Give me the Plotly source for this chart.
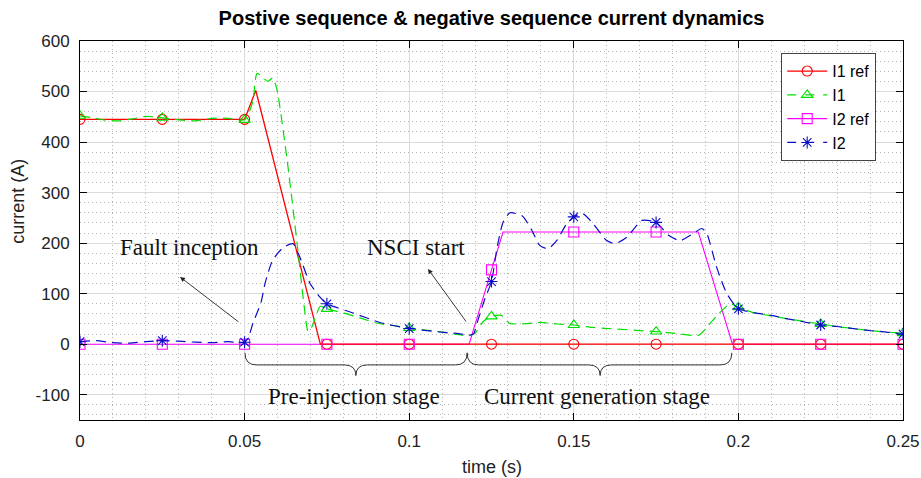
import plotly.graph_objects as go

# Times at which each curve carries a marker symbol
MARK_T = [0, 0.025, 0.05, 0.075, 0.1, 0.125, 0.15, 0.175, 0.2, 0.225, 0.25]

# Positive-sequence reference current I1 ref (A)
I1_REF_T = [0, 0.025, 0.05, 0.0534, 0.073, 0.075, 0.1, 0.125, 0.15, 0.175, 0.2, 0.225, 0.25]
I1_REF_V = [445, 445, 445, 502, 0, 0, 0, 0, 0, 0, 0, 0, 0]

# Measured positive-sequence current I1 (A)
I1_T = [0, 0.004, 0.008, 0.012, 0.016, 0.02, 0.025, 0.03, 0.035, 0.04, 0.045, 0.05,
        0.0525, 0.0538, 0.0571, 0.0585, 0.0598, 0.0632, 0.0662, 0.068, 0.0693, 0.0705,
        0.073, 0.075, 0.078, 0.08, 0.085, 0.09, 0.095, 0.1, 0.105, 0.11, 0.115, 0.118,
        0.12, 0.1225, 0.125, 0.128, 0.1306, 0.136, 0.14, 0.145, 0.15, 0.156, 0.163, 0.17,
        0.175, 0.18, 0.188, 0.191, 0.194, 0.1975, 0.2, 0.205, 0.21, 0.215, 0.22, 0.225,
        0.23, 0.235, 0.24, 0.245, 0.25]
I1_V = [452, 448, 443, 442, 446, 451, 448, 444, 442, 447, 447, 444,
        480, 536, 520, 527, 505, 350, 185, 80, 25, 35,
        75, 70, 65, 62, 52, 42, 37, 32, 28, 24, 19, 17,
        22, 45, 55, 57, 41, 41, 43, 40, 38, 33, 30, 27,
        25, 22, 18, 38, 60, 80, 73, 62, 56, 50, 45, 40,
        35, 31, 27, 24, 22]

# Negative-sequence reference current I2 ref (A)
I2_REF_T = [0, 0.025, 0.05, 0.075, 0.1, 0.1182, 0.125, 0.1285, 0.15, 0.175, 0.1878,
            0.1982, 0.2, 0.225, 0.25]
I2_REF_V = [0, 0, 0, 0, 0, 0, 147, 222, 222, 222, 222, 0, 0, 0, 0]

# Measured negative-sequence current I2 (A)
I2_T = [0, 0.005, 0.01, 0.015, 0.02, 0.025, 0.03, 0.035, 0.04, 0.045, 0.05, 0.0515,
        0.0525, 0.055, 0.0562, 0.0585, 0.0617, 0.0647, 0.0668, 0.0699, 0.0729, 0.075,
        0.0833, 0.0911, 0.1, 0.108, 0.115, 0.1182, 0.1195, 0.121, 0.123, 0.125, 0.1267,
        0.1285, 0.1306, 0.1343, 0.1373, 0.1397, 0.1422, 0.1448, 0.1478, 0.15, 0.1528,
        0.1559, 0.16, 0.1625, 0.166, 0.1707, 0.175, 0.1789, 0.1823, 0.1863, 0.1889,
        0.1904, 0.1934, 0.1965, 0.2, 0.205, 0.21, 0.215, 0.22, 0.225, 0.23, 0.235, 0.24,
        0.245, 0.25]
I2_V = [5, 7, 3, 2, 5, 7, 6, 4, 3, 5, 4, 20,
        41, 83, 120, 166, 191, 199, 172, 120, 93, 80,
        61, 43, 31, 25, 21, 18, 20, 50, 90, 124, 191,
        241, 260, 254, 225, 195, 189, 205, 238, 252, 258,
        238, 205, 199, 211, 245, 241, 215, 205, 219, 229,
        219, 152, 100, 70, 62, 57, 50, 44, 38, 35, 31, 27,
        24, 20]

X_TICKS = [0, 0.05, 0.1, 0.15, 0.2, 0.25]
X_TICK_TEXT = ["0", "0.05", "0.1", "0.15", "0.2", "0.25"]
Y_TICKS = [-100, 0, 100, 200, 300, 400, 500, 600]
Y_TICK_TEXT = ["-100", "0", "100", "200", "300", "400", "500", "600"]

SERIES = {
    "I1 ref": dict(t=I1_REF_T, v=I1_REF_V, color="#ff0000", dash="solid",
                   width=1.3, symbol="circle-open", size=10, shape="linear"),
    "I1": dict(t=I1_T, v=I1_V, color="#00e000", dash="10px,6px",
               width=1.2, symbol="triangle-up-open", size=10, shape="spline"),
    "I2 ref": dict(t=I2_REF_T, v=I2_REF_V, color="#ff00ff", dash="solid",
                   width=1.1, symbol="square-open", size=10, shape="linear"),
    "I2": dict(t=I2_T, v=I2_V, color="#0c0cc8", dash="10px,6px",
               width=1.2, symbol="asterisk-open", size=10, shape="spline"),
}
LEGEND_ORDER = ["I1 ref", "I1", "I2 ref", "I2"]
DRAW_ORDER = ["I2 ref", "I1 ref", "I1", "I2"]

fig = go.Figure()

# curves (red reference drawn over the magenta one where both sit at zero)
for name in DRAW_ORDER:
    s = SERIES[name]
    line = dict(color=s["color"], width=s["width"], dash=s["dash"], shape=s["shape"])
    if s["shape"] == "spline":
        line["smoothing"] = 0.6
    fig.add_trace(go.Scatter(x=s["t"], y=s["v"], mode="lines", line=line,
                             showlegend=False, hoverinfo="skip"))

# marker symbols at the sampled instants
for name in LEGEND_ORDER:
    s = SERIES[name]
    lookup = dict(zip(s["t"], s["v"]))
    mark_y = [lookup[t] for t in MARK_T]
    fig.add_trace(go.Scatter(x=MARK_T, y=mark_y, mode="markers", showlegend=False,
                             hoverinfo="skip",
                             marker=dict(symbol=s["symbol"], size=s["size"],
                                         color=s["color"],
                                         line=dict(width=1.1, color=s["color"]))))

# legend entries: line sample with the series marker
for name in LEGEND_ORDER:
    s = SERIES[name]
    fig.add_trace(go.Scatter(x=[None], y=[None], mode="lines+markers", name=name,
                             line=dict(color=s["color"], width=s["width"],
                                       dash="dash" if s["dash"] != "solid" else "solid"),
                             marker=dict(symbol=s["symbol"], size=s["size"], color=s["color"],
                                         line=dict(width=1.1, color=s["color"]))))


def brace_path(x0, x1, xm, ytop, ymid, ytip, r):
    return (f"M {x0},{ytop} Q {x0},{ymid} {x0 + r},{ymid} L {xm - r},{ymid} "
            f"Q {xm},{ymid} {xm},{ytip} Q {xm},{ymid} {xm + r},{ymid} "
            f"L {x1 - r},{ymid} Q {x1},{ymid} {x1},{ytop}")


brace_style = dict(type="path", xref="x", yref="y", line=dict(color="#333333", width=1),
                   layer="above")
fig.add_shape(path=brace_path(0.0501, 0.1176, 0.0838, -17, -41, -62, 0.0035), **brace_style)
fig.add_shape(path=brace_path(0.1176, 0.198, 0.158, -17, -41, -62, 0.0035), **brace_style)

serif = dict(family="Liberation Serif, Times New Roman, serif", size=23, color="#111")
notes = [
    dict(x=0.0334, y=192, text="Fault inception"),
    dict(x=0.1021, y=192, text="NSCI start"),
    dict(x=0.0832, y=-104, text="Pre-injection stage"),
    dict(x=0.1570, y=-104, text="Current generation stage"),
]
for n in notes:
    fig.add_annotation(x=n["x"], y=n["y"], xref="x", yref="y", text=n["text"],
                       showarrow=False, font=serif, xanchor="center", yanchor="middle")

arrows = [
    dict(x=0.0304, y=133, ax=0.0486, ay=42),
    dict(x=0.1057, y=149, ax=0.1176, ay=42),
]
for a in arrows:
    fig.add_annotation(x=a["x"], y=a["y"], ax=a["ax"], ay=a["ay"], xref="x", yref="y",
                       axref="x", ayref="y", text="", showarrow=True, arrowhead=2,
                       arrowsize=1.1, arrowwidth=0.9, arrowcolor="#222")

# axis titles
fig.add_annotation(x=0.5, y=-0.124, xref="paper", yref="paper", text="time (s)",
                   showarrow=False, font=dict(size=18, color="#222"),
                   xanchor="center", yanchor="middle")
fig.add_annotation(x=-0.0755, y=0.578, xref="paper", yref="paper", text="current (A)",
                   showarrow=False, textangle=-90, font=dict(size=18, color="#222"),
                   xanchor="center", yanchor="middle")

axis_common = dict(showline=True, linecolor="black", linewidth=1, mirror="ticks",
                   ticks="inside", ticklen=7, tickwidth=1, tickcolor="black",
                   showgrid=True, gridcolor="#dadada", gridwidth=1, zeroline=False,
                   tickfont=dict(size=17, color="#222"), ticklabelstandoff=6)
minor_grid = dict(showgrid=True, gridcolor="#b4b4b4", griddash="1px,3px", gridwidth=1)

fig.update_xaxes(range=[0, 0.25], tickmode="array", tickvals=X_TICKS, ticktext=X_TICK_TEXT,
                 minor=dict(tickmode="linear", tick0=0, dtick=0.01, **minor_grid),
                 **axis_common)
fig.update_yaxes(range=[-150, 600], tickmode="array", tickvals=Y_TICKS, ticktext=Y_TICK_TEXT,
                 minor=dict(tickmode="linear", tick0=0, dtick=20, **minor_grid),
                 **axis_common)

fig.update_layout(
    width=921, height=478,
    margin=dict(l=80, r=18, t=41, b=58, autoexpand=False),
    paper_bgcolor="white", plot_bgcolor="white",
    font=dict(family="Arial, Liberation Sans, sans-serif", size=17, color="#222"),
    title=dict(text="<b>Postive sequence & negative sequence current dynamics</b>",
               x=0.5, xref="paper", xanchor="center", y=1 - 18 / 478, yref="container",
               yanchor="middle", font=dict(size=20, color="black")),
    legend=dict(x=0.852, y=0.968, xanchor="left", yanchor="top", bgcolor="white",
                bordercolor="#444", borderwidth=1, font=dict(size=16, color="black"),
                tracegroupgap=0, itemwidth=40),
)

fig.write_html("out.html")
